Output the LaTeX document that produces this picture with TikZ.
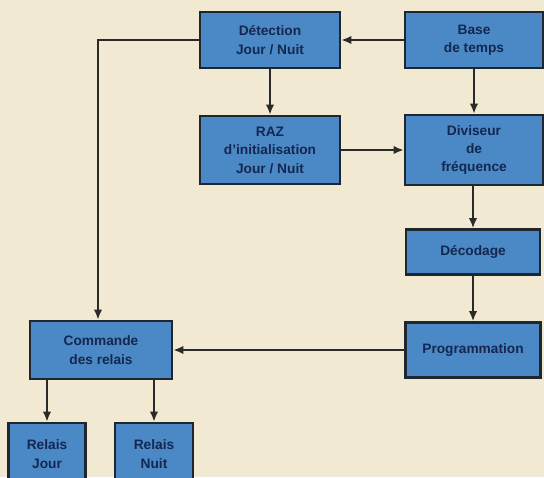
\documentclass[tikz,border=0pt]{standalone}
\usepackage{fontspec}
\setsansfont{Liberation Sans}
\usetikzlibrary{arrows.meta, positioning, calc}
\definecolor{cpaper}{HTML}{F1E9D2}
\definecolor{cbox}{HTML}{4A89C6}
\definecolor{cedge}{HTML}{1E2630}
\definecolor{ctext}{HTML}{15264F}
\definecolor{cline}{HTML}{2A2A2A}
\tikzset{
  every picture/.style={font=\sffamily\bfseries, line width=1pt},
  box/.style={draw=cedge, fill=cbox, line width=1.6pt, align=center, inner sep=2pt,
    text=ctext, font=\sffamily\bfseries\fontsize{7.8}{10.5}\selectfont},
  arrow/.style={-{Latex[length=2mm, width=1.7mm]}, draw=cline, line width=1pt},
}

\begin{document}
\begin{tikzpicture}[x=0.2mm, y=-0.2mm,
  b/.style={box, minimum width=#1*0.2mm},
  b/.default=140]
  \fill[cpaper] (0,0) rectangle (544,477);
  \useasboundingbox (0,0) rectangle (544,477);
  \node[b, minimum height=56*0.2mm] (det) at (270, 40) {Détection\\Jour / Nuit};
  \node[b=138, minimum height=56*0.2mm] (base) at (474, 40) {Base\\de temps};
  \node[b, minimum height=68*0.2mm] (raz) at (270, 150) {RAZ\\d'initialisation\\Jour / Nuit};
  \node[b=138, minimum height=70*0.2mm] (div) at (474, 150) {Diviseur\\de\\fréquence};
  \node[b=134, minimum height=45*0.2mm] (dec) at (473, 252) {Décodage};
  \node[b=135, minimum height=55*0.2mm] (prog) at (473, 350) {Programmation};
  \node[b=142, minimum height=58*0.2mm] (cmd) at (101, 350) {Commande\\des relais};
  \node[b=77, minimum height=62*0.2mm] (rj) at (47, 454) {Relais\\Jour};
  \node[b=78, minimum height=62*0.2mm] (rn) at (154, 454) {Relais\\Nuit};
  \foreach \a/\b in {base/det, det/raz, raz/div, base/div, dec/prog, prog/cmd}
    \draw[arrow] (\a) -- (\b);
  \draw[arrow] (div.south -| dec.north) -- (dec.north);
  \draw[arrow] (det.west) -| ($(cmd.north)+(-3,0)$);
  \draw[arrow] (cmd.south -| rj.north) -- (rj.north);
  \draw[arrow] (cmd.south -| rn.north) -- (rn.north);
\end{tikzpicture}
\end{document}
